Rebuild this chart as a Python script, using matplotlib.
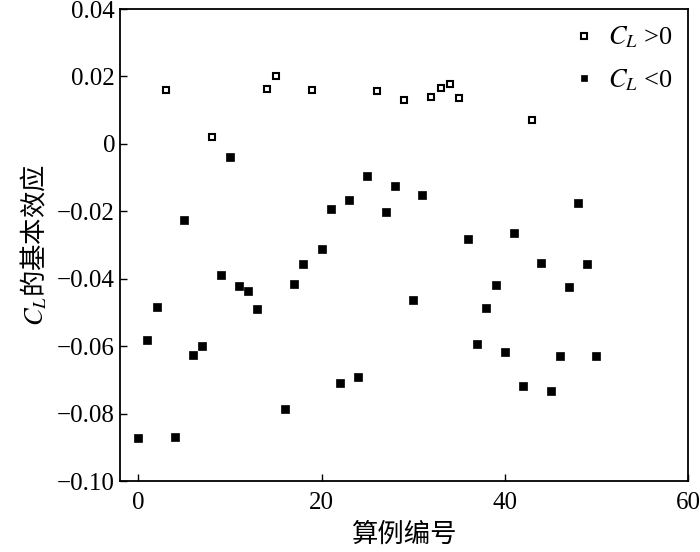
import numpy as np
import matplotlib
matplotlib.use("Agg")
import matplotlib.pyplot as plt

plt.rcParams['font.family'] = ['Liberation Serif', 'Noto Sans CJK SC']
plt.rcParams['mathtext.fontset'] = 'stix'

# C_L > 0 cases
pos_case = [3, 8, 14, 15, 19, 26, 29, 32, 33, 34, 35, 43]
pos_val = [0.0160, 0.0021, 0.0164, 0.0202, 0.0160, 0.0157, 0.0130,
           0.0140, 0.0165, 0.0178, 0.0136, 0.0072]

# C_L < 0 cases
neg_case = [0, 1, 2, 4, 5, 6, 7, 9, 10, 11, 12, 13, 16, 17, 18, 20, 21, 22,
            23, 24, 25, 27, 28, 30, 31, 36, 37, 38, 39, 40, 41, 42, 44, 45,
            46, 47, 48, 49, 50]
neg_val = [-0.0873, -0.0583, -0.0483, -0.0869, -0.0227, -0.0626, -0.0599,
           -0.0390, -0.0039, -0.0422, -0.0437, -0.0491, -0.0786, -0.0416,
           -0.0355, -0.0313, -0.0193, -0.0710, -0.0167, -0.0690, -0.0094,
           -0.0201, -0.0126, -0.0463, -0.0151, -0.0281, -0.0593, -0.0486,
           -0.0418, -0.0618, -0.0265, -0.0719, -0.0352, -0.0732, -0.0630,
           -0.0424, -0.0176, -0.0357, -0.0630]

yticks = [0.04, 0.02, 0, -0.02, -0.04, -0.06, -0.08, -0.10]
ytick_labels = ['0.04', '0.02', '0', '\u22120.02', '\u22120.04', '\u22120.06',
                '\u22120.08', '\u22120.10']
xticks = [0, 20, 40, 60]

fig = plt.figure(figsize=(7, 5.52), dpi=100)
ax = fig.add_axes([0.1714, 0.1286, 0.8115, 0.855])

ax.plot(pos_case, pos_val, ls='none', marker='s', ms=5.0, mfc='white',
        mec='black', mew=1.5, label=r'$C_L$ >0')
ax.plot(neg_case, neg_val, ls='none', marker='s', ms=5.5, mfc='black',
        mec='black', mew=0.5, label=r'$C_L$ <0')

ax.set_xlim(-2, 60)
ax.set_ylim(-0.10, 0.04)
ax.set_xticks(xticks)
ax.set_yticks(yticks)
ax.set_yticklabels(ytick_labels)
ax.tick_params(direction='in', length=5, width=1, labelsize=18,
               top=False, right=False)
ax.tick_params(axis='x', pad=8)
for s in ax.spines.values():
    s.set_linewidth(1.3)

ax.set_xlabel('算例编号', fontsize=19, labelpad=5, fontfamily='Noto Sans CJK SC')
# mathtext only falls back to one font, so give the label the CJK family
ax.set_ylabel(r'$C_L$的基本效应', fontsize=19, labelpad=6,
              fontfamily='Noto Sans CJK SC')

ax.legend(loc='upper right', frameon=False, fontsize=19, handlelength=0.6,
          handletextpad=0.6, borderaxespad=0.2, labelspacing=0.65,
          markerscale=0.9)

fig.savefig('out.png', dpi=100)
